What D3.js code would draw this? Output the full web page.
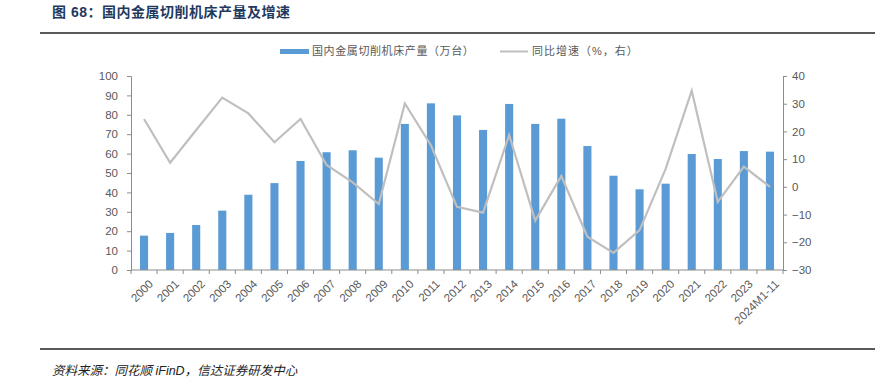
<!DOCTYPE html>
<html>
<head>
<meta charset="utf-8">
<script src="https://cdn.jsdelivr.net/npm/d3@7"></script>
<style>
body { margin: 0; background: #fff; }
svg text { font-family: Arial, "Liberation Sans", "Noto Sans CJK SC", sans-serif; }
</style>
</head>
<body>
<div id="chart"></div>
<script>
// data
var years = ["2000","2001","2002","2003","2004","2005","2006","2007","2008","2009",
    "2010","2011","2012","2013","2014","2015","2016","2017","2018","2019",
    "2020","2021","2022","2023","2024M1-11"];
var output = [17.7, 19.1, 23.2, 30.6, 38.8, 44.8, 56.2, 60.7, 61.7, 57.9,
    75.3, 85.9, 79.7, 72.2, 85.6, 75.3, 78.0, 63.9, 48.6, 41.6,
    44.5, 59.8, 57.2, 61.3, 61.0];
var growth = [24.5, 8.7, 20.5, 32.2, 26.5, 16.1, 24.5, 7.9, 1.6, -6.2,
    30.1, 15.0, -7.2, -9.3, 18.7, -12.2, 3.9, -18.0, -23.8, -15.6,
    6.5, 34.7, -5.4, 7.3, 0.0];
var leftTicks = [0, 10, 20, 30, 40, 50, 60, 70, 80, 90, 100];
var rightTicks = [-30, -20, -10, 0, 10, 20, 30, 40];

// dimensions
var width = 884;
var height = 387;
var plotLeft = 131, plotRight = 783, plotTop = 76, plotBottom = 270;

var svg = d3.select("#chart")
    .append("svg")
    .attr("width", width)
    .attr("height", height);

var axisColor = "#8c8c8c";
var textColor = "#595959";

// title + rules
svg.append("text")
    .attr("x", 52).attr("y", 17)
    .attr("font-size", "14px")
    .attr("font-weight", 700)
    .attr("letter-spacing", "0.5px")
    .attr("fill", "#1f3a60")
    .attr("font-family", "'Noto Sans CJK SC', sans-serif")
    .text("图 68：国内金属切削机床产量及增速");

svg.append("line")
    .attr("x1", 40).attr("x2", 875).attr("y1", 33).attr("y2", 33)
    .attr("stroke", "#222").attr("stroke-width", 1.5);
svg.append("line")
    .attr("x1", 40).attr("x2", 875).attr("y1", 349).attr("y2", 349)
    .attr("stroke", "#222").attr("stroke-width", 1.5);

svg.append("text")
    .attr("x", 52).attr("y", 375)
    .attr("font-size", "12.5px")
    .attr("font-style", "italic")
    .attr("fill", "#222")
    .attr("font-family", "'Noto Sans CJK SC', sans-serif")
    .text("资料来源：同花顺 iFinD，信达证券研发中心");

// scales
var x = d3.scaleBand().domain(years).range([plotLeft, plotRight]).paddingInner(0.69).paddingOuter(0.345);
var xc = d3.scalePoint().domain(years).range([plotLeft, plotRight]).padding(0.5);
var y = d3.scaleLinear().domain([0, 100]).range([plotBottom, plotTop]);
var y2 = d3.scaleLinear().domain([-30, 40]).range([plotBottom, plotTop]);

// bars
svg.selectAll(".bar")
    .data(output)
    .enter()
    .append("rect")
    .attr("class", "bar")
    .attr("x", function (d, i) { return x(years[i]); })
    .attr("width", x.bandwidth())
    .attr("y", function (d) { return y(d); })
    .attr("height", function (d) { return y(0) - y(d); })
    .attr("fill", "#5b9bd5");

// growth line
var line = d3.line()
    .x(function (d, i) { return xc(years[i]); })
    .y(function (d) { return y2(d); });
svg.append("path")
    .datum(growth)
    .attr("d", line)
    .attr("fill", "none")
    .attr("stroke", "#bfbfbf")
    .attr("stroke-width", 2.2);

// axes
function styleAxis(g) {
    g.select(".domain").attr("stroke", axisColor);
    g.selectAll(".tick line").attr("stroke", axisColor);
    g.selectAll(".tick text").attr("fill", textColor).attr("font-size", "11.5px");
}

svg.append("g")
    .attr("transform", "translate(" + plotLeft + ",0)")
    .call(d3.axisLeft(y).tickValues(leftTicks).tickSize(4).tickSizeOuter(4).tickPadding(9))
    .call(styleAxis);

svg.append("g")
    .attr("transform", "translate(" + plotRight + ",0)")
    .call(d3.axisRight(y2).tickValues(rightTicks).tickSize(4).tickSizeOuter(4).tickPadding(5))
    .call(styleAxis);

// x axis: boundary ticks between categories
var xAxis = svg.append("g").attr("transform", "translate(0," + plotBottom + ")");
xAxis.append("line")
    .attr("x1", plotLeft).attr("x2", plotRight)
    .attr("stroke", axisColor);
var step = x.step();
xAxis.selectAll(".xt")
    .data(d3.range(years.length + 1))
    .enter()
    .append("line")
    .attr("x1", function (i) { return plotLeft + i * step; })
    .attr("x2", function (i) { return plotLeft + i * step; })
    .attr("y1", 0).attr("y2", 4)
    .attr("stroke", axisColor);
xAxis.selectAll(".xl")
    .data(years)
    .enter()
    .append("text")
    .attr("transform", function (d) {
        return "translate(" + (xc(d) + 4) + ",9) rotate(-45)";
    })
    .attr("text-anchor", "end")
    .attr("dy", "0.7em")
    .attr("font-size", "11.5px")
    .attr("fill", textColor)
    .text(function (d) { return d; });

// legend
var legend = svg.append("g");
legend.append("rect")
    .attr("x", 280).attr("y", 49).attr("width", 29).attr("height", 5)
    .attr("fill", "#5b9bd5");
legend.append("text")
    .attr("x", 312).attr("y", 55)
    .attr("font-size", "11px")
    .attr("letter-spacing", "0.6px")
    .attr("fill", textColor)
    .attr("font-family", "'Noto Sans CJK SC', sans-serif")
    .text("国内金属切削机床产量（万台）");
legend.append("line")
    .attr("x1", 500).attr("x2", 528).attr("y1", 51.5).attr("y2", 51.5)
    .attr("stroke", "#bfbfbf").attr("stroke-width", 2);
legend.append("text")
    .attr("x", 532).attr("y", 55)
    .attr("font-size", "11px")
    .attr("letter-spacing", "1px")
    .attr("fill", textColor)
    .attr("font-family", "'Noto Sans CJK SC', sans-serif")
    .text("同比增速（%，右）");
</script>
</body>
</html>
